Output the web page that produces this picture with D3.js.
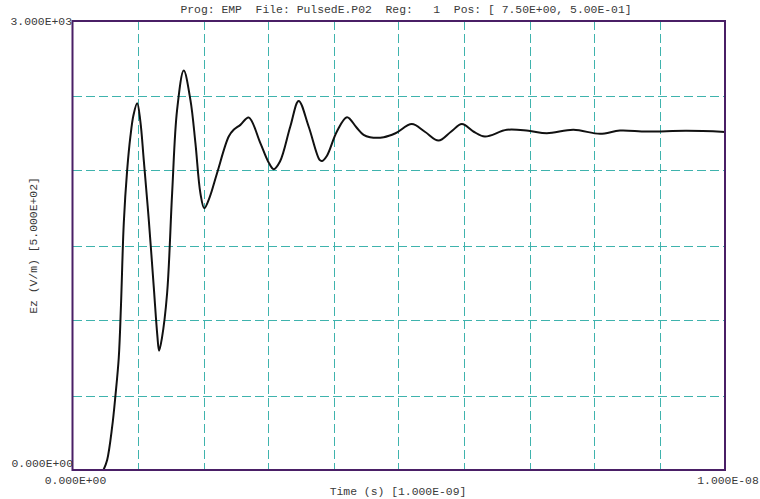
<!DOCTYPE html>
<html>
<head>
<meta charset="utf-8">
<script src="https://cdn.jsdelivr.net/npm/d3@7"></script>
<style>
  html, body { margin: 0; padding: 0; background: #ffffff; }
  svg { display: block; }
  text { font-family: "Liberation Mono", "Courier New", monospace; font-size: 11.4px; fill: #3a3a3a; }
</style>
</head>
<body>
<svg id="chart" width="760" height="499"></svg>
<script>
// Probe signal: time in units of 1.000E-09 s, Ez in V/m (zero before the pulse arrives)
const timeNs = [0.475, 0.531, 0.608, 0.658, 0.709, 0.743, 0.786, 0.838, 0.888, 0.934, 0.991,
  1.04, 1.092, 1.169, 1.245, 1.30, 1.327, 1.37, 1.45, 1.527, 1.603, 1.705, 1.807, 1.884,
  1.96, 2.02, 2.10, 2.215, 2.394, 2.47, 2.573, 2.70, 2.879, 3.00, 3.083, 3.18, 3.338,
  3.466, 3.619, 3.787, 3.824, 3.90, 4.05, 4.207, 4.35, 4.461, 4.56, 4.77, 4.95, 5.20,
  5.40, 5.61, 5.80, 5.967, 6.15, 6.32, 6.657, 6.988, 7.27, 7.677, 8.086, 8.39, 8.80,
  9.41, 10.0];
const ezValues = [0, 67, 289, 497, 750, 1100, 1650, 2005, 2230, 2370, 2450,
  2330, 2072, 1671, 1225, 900, 797, 880, 1181, 1850, 2406, 2669, 2473, 2184,
  1850, 1749, 1820, 1983, 2228, 2273, 2306, 2355, 2184, 2060, 2010, 2061, 2295,
  2466, 2295, 2072, 2065, 2100, 2260, 2357, 2290, 2239, 2224, 2224, 2250, 2311,
  2260, 2201, 2260, 2311, 2260, 2228, 2273, 2266, 2250, 2273, 2246, 2268, 2261,
  2266, 2259];

const titleText = "Prog: EMP  File: PulsedE.P02  Reg:   1  Pos: [ 7.50E+00, 5.00E-01]";
const xLabels = ["0.000E+00", "1.000E-08"];
const yLabels = ["0.000E+00", "3.000E+03"];
const xTitle = "Time (s) [1.000E-09]";
const yTitle = "Ez (V/m) [5.000E+02]";
const xGrid = d3.range(1, 10);          // vertical grid every 1.0E-09 s
const yGrid = [500, 1000, 1500, 2000, 2500];

const svg = d3.select("#chart");
const box = { left: 72.5, right: 725, top: 21, bottom: 470 };

const x = d3.scaleLinear().domain([0, 10]).range([box.left, box.right]);
const y = d3.scaleLinear().domain([0, 3000]).range([box.bottom, box.top]);

// snap a 1px line onto an even pixel column/row
const snap = v => 2 * Math.round(v / 2) + 0.5;

svg.append("defs").append("clipPath").attr("id", "plot-area")
  .append("rect")
  .attr("x", box.left).attr("y", box.top)
  .attr("width", box.right - box.left).attr("height", box.bottom - box.top);

// dashed grid
const grid = svg.append("g")
  .attr("stroke", "#3fb3ad")
  .attr("stroke-width", 1)
  .attr("stroke-dasharray", "9,4")
  .attr("shape-rendering", "crispEdges");
grid.selectAll("line.v").data(xGrid).join("line")
  .attr("x1", d => snap(x(d))).attr("x2", d => snap(x(d)))
  .attr("y1", box.top).attr("y2", box.bottom);
grid.selectAll("line.h").data(yGrid).join("line")
  .attr("y1", d => snap(y(d))).attr("y2", d => snap(y(d)))
  .attr("x1", box.left).attr("x2", box.right);

// signal trace
const pts = timeNs.map((t, i) => [t, ezValues[i]]);
svg.append("path")
  .datum(pts)
  .attr("clip-path", "url(#plot-area)")
  .attr("fill", "none")
  .attr("stroke", "#111111")
  .attr("stroke-width", 2)
  .attr("stroke-linejoin", "round")
  .attr("d", d3.line().x(d => x(d[0])).y(d => y(d[1])).curve(d3.curveCatmullRom.alpha(0.5)));

// plot frame
svg.append("rect")
  .attr("x", box.left).attr("y", box.top)
  .attr("width", box.right - box.left).attr("height", box.bottom - box.top)
  .attr("fill", "none")
  .attr("stroke", "#4a1f66")
  .attr("stroke-width", 2);

// title
svg.append("text")
  .attr("x", 406).attr("y", 13)
  .attr("text-anchor", "middle")
  .attr("xml:space", "preserve")
  .style("white-space", "pre")
  .text(titleText);

// y-axis end labels
svg.append("text").attr("x", 72).attr("y", y(3000) + 4)
  .attr("text-anchor", "end").text(yLabels[1]);
svg.append("text").attr("x", 73).attr("y", y(0) - 3)
  .attr("text-anchor", "end").text(yLabels[0]);

// x-axis end labels
svg.append("text").attr("x", x(0) + 3).attr("y", 484)
  .attr("text-anchor", "middle").text(xLabels[0]);
svg.append("text").attr("x", x(10) + 3).attr("y", 484)
  .attr("text-anchor", "middle").text(xLabels[1]);

// axis titles
svg.append("text").attr("x", 398).attr("y", 495)
  .attr("text-anchor", "middle").text(xTitle);
svg.append("text")
  .attr("transform", `translate(37, ${(box.top + box.bottom) / 2}) rotate(-90)`)
  .attr("text-anchor", "middle").text(yTitle);
</script>
</body>
</html>
